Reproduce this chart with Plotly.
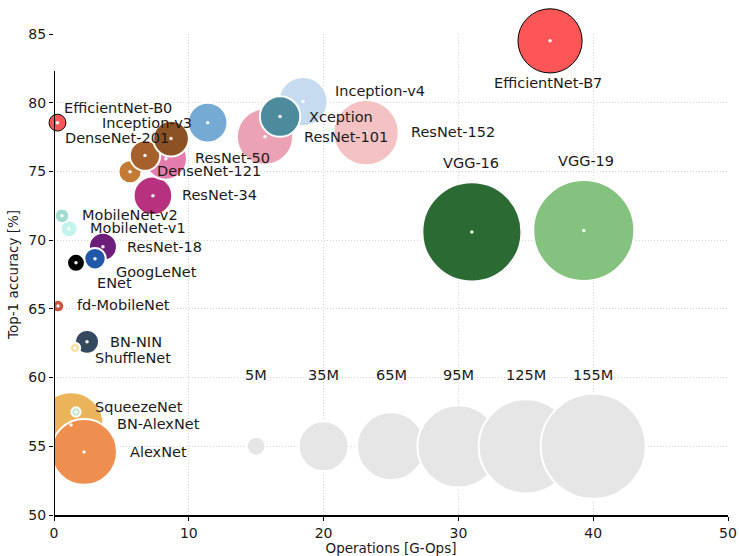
import plotly.graph_objects as go

# ---- model data: operations [G-Ops], top-1 accuracy [%], parameters [M] ----
# listed in drawing order (later entries sit on top)
models = [
    "ResNet-152", "VGG-16", "VGG-19", "Inception-v4", "ResNet-101", "Xception",
    "Inception-v3", "ResNet-34", "ResNet-50", "DenseNet-121", "DenseNet-169",
    "DenseNet-201", "ResNet-18", "GoogLeNet", "ENet", "MobileNet-v1",
    "MobileNet-v2", "BN-NIN", "ShuffleNet", "fd-MobileNet", "BN-AlexNet",
    "AlexNet", "SqueezeNet",
]
ops = [
    23.15, 31.0, 39.3, 18.47, 15.65, 16.77,
    11.4, 7.34, 8.3, 5.64, 6.75,
    8.68, 3.63, 3.04, 1.63, 1.11,
    0.59, 2.45, 1.56, 0.3, 1.26,
    2.23, 1.63,
]
acc = [
    77.82, 70.6, 70.7, 80.08, 77.53, 78.99,
    78.55, 73.23, 75.93, 74.98, 76.15,
    77.39, 69.52, 68.65, 68.35, 70.83,
    71.78, 62.6, 62.16, 65.2, 56.55,
    54.59, 57.5,
]
params = [
    60.0, 138.0, 143.7, 34.0, 44.5, 23.0,
    22.0, 21.0, 25.0, 7.5, 13.0,
    18.0, 11.0, 6.5, 4.5, 4.0,
    3.0, 8.0, 1.5, 2.2, 60.0,
    61.0, 1.2,
]
colors = [
    "#f4c2c2", "#2b6b33", "#86c27f", "#c6dbef", "#eba2b5", "#4c8a9c",
    "#74aad3", "#b7317f", "#e27dad", "#c27a35", "#a5602b",
    "#8c5223", "#6b1f7b", "#2159a8", "#000000", "#c2f3ec",
    "#a2dccf", "#34495e", "#f5e2a2", "#c8553d", "#ecb45a",
    "#ee8f4f", "#c3e6cc",
]

# EfficientNet family (drawn unclipped with a black edge)
eff_models = ["EfficientNet-B0", "EfficientNet-B7"]
eff_ops = [0.26, 36.8]
eff_acc = [78.55, 84.5]
eff_params = [4.0, 58.0]
eff_color = "#fe5656"

# size key
key_params = [5, 35, 65, 95, 125, 155]
key_ops = [15, 20, 25, 30, 35, 40]
key_acc = [55, 55, 55, 55, 55, 55]
key_text = ["5M", "35M", "65M", "95M", "125M", "155M"]

# label anchors (data units) and horizontal alignment for every model name
label_pos = {
    "EfficientNet-B0": (0.59, 79.64, "left"),
    "Inception-v3": (3.41, 78.55, "left"),
    "DenseNet-201": (0.65, 77.42, "left"),
    "DenseNet-169": (-1.56, 76.15, "left"),
    "ResNet-50": (10.31, 76.0, "left"),
    "DenseNet-121": (7.49, 75.05, "left"),
    "ResNet-34": (9.35, 73.31, "left"),
    "MobileNet-v2": (1.93, 71.85, "left"),
    "MobileNet-v1": (2.52, 70.9, "left"),
    "ResNet-18": (5.27, 69.52, "left"),
    "GoogLeNet": (4.45, 67.7, "left"),
    "ENet": (3.04, 66.9, "left"),
    "fd-MobileNet": (1.56, 65.3, "left"),
    "BN-NIN": (4.0, 62.6, "left"),
    "ShuffleNet": (2.89, 61.43, "left"),
    "SqueezeNet": (2.89, 57.87, "left"),
    "BN-AlexNet": (4.53, 56.63, "left"),
    "AlexNet": (5.49, 54.59, "left"),
    "Inception-v4": (20.7, 80.88, "left"),
    "Xception": (18.77, 78.99, "left"),
    "ResNet-101": (18.4, 77.53, "left"),
    "ResNet-152": (26.34, 77.9, "left"),
    "VGG-16": (30.93, 75.64, "center"),
    "VGG-19": (39.43, 75.78, "center"),
    "EfficientNet-B7": (36.65, 81.4, "center"),
}

FONT = "DejaVu Sans"
TEXT = "#1a1a1a"
LABEL_SIZE = 14.5
# bubble area proportional to parameter count (155M -> ~105 px across)
SIZEREF = 2.0 * max(key_params) / (105.0 ** 2)

fig = go.Figure()

# size key bubbles
fig.add_trace(go.Scatter(
    x=key_ops, y=key_acc, mode="markers", hoverinfo="skip",
    marker=dict(size=key_params, sizemode="area", sizeref=SIZEREF,
                color="#e6e6e6", line=dict(color="white", width=2), opacity=1),
))

# model bubbles
fig.add_trace(go.Scatter(
    x=ops, y=acc, mode="markers", text=models, hoverinfo="text",
    marker=dict(size=params, sizemode="area", sizeref=SIZEREF,
                color=colors, line=dict(color="white", width=2), opacity=1),
))

# EfficientNet bubbles, allowed to spill past the axes
fig.add_trace(go.Scatter(
    x=eff_ops, y=eff_acc, mode="markers", text=eff_models, hoverinfo="text",
    cliponaxis=False,
    marker=dict(size=eff_params, sizemode="area", sizeref=SIZEREF,
                color=eff_color, line=dict(color="black", width=1), opacity=1),
))

# centre dots
fig.add_trace(go.Scatter(
    x=ops + eff_ops, y=acc + eff_acc, mode="markers", hoverinfo="skip",
    cliponaxis=False,
    marker=dict(size=3.5, color="rgba(255,255,255,0.95)", line=dict(width=0)),
))

annotations = []
for name in models + eff_models:
    lx, ly, anchor = label_pos[name]
    annotations.append(dict(
        x=lx, y=ly, xref="x", yref="y", text=name, showarrow=False,
        xanchor=anchor, yanchor="middle",
        font=dict(family=FONT, size=LABEL_SIZE, color=TEXT),
    ))
for kx, kt in zip(key_ops, key_text):
    annotations.append(dict(
        x=kx, y=60.2, xref="x", yref="y", text=kt, showarrow=False,
        xanchor="center", yanchor="middle",
        font=dict(family=FONT, size=LABEL_SIZE, color=TEXT),
    ))

grid = dict(showgrid=True, gridcolor="#d4d4d4", gridwidth=1, griddash="1px,2px",
            zeroline=False, layer="above traces", ticks="outside", ticklen=4,
            tickwidth=1.2, tickcolor="black",
            tickfont=dict(family=FONT, size=14, color=TEXT))

fig.update_layout(
    width=739, height=556,
    margin=dict(l=54, r=11, t=34, b=41, autoexpand=False),
    paper_bgcolor="white", plot_bgcolor="white",
    showlegend=False,
    font=dict(family=FONT, color=TEXT),
    xaxis=dict(range=[0, 50], tickvals=[0, 10, 20, 30, 40, 50],
               showline=True, linecolor="black", linewidth=2,
               title=dict(text="Operations [G-Ops]", standoff=3,
                          font=dict(family=FONT, size=13.5, color=TEXT)),
               **grid),
    yaxis=dict(range=[50, 85], tickvals=[50, 55, 60, 65, 70, 75, 80, 85],
               showline=False,
               title=dict(text="Top-1 accuracy [%]", standoff=6,
                          font=dict(family=FONT, size=13.5, color=TEXT)),
               **grid),
    annotations=annotations,
    shapes=[dict(type="line", xref="x", yref="y", x0=0, x1=0, y0=50, y1=82.3,
                 line=dict(color="black", width=2), layer="above")],
)

fig.write_html("out.html")
